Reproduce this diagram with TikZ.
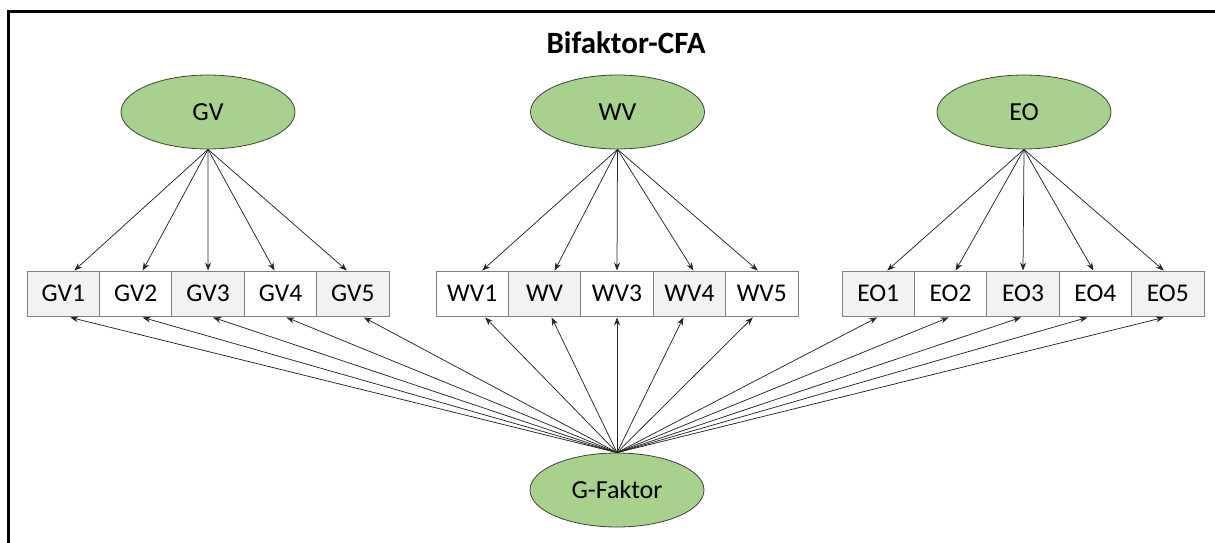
\documentclass[tikz,border=0pt]{standalone}
\usepackage{fontspec}
\setmainfont{Carlito}
\usetikzlibrary{shapes.geometric,arrows.meta}
\definecolor{latgreen}{HTML}{A9D18E}
\definecolor{boxgray}{HTML}{F2F2F2}
\begin{document}
\begin{tikzpicture}[x=1pt,y=1pt,
  latent/.style={ellipse,draw=black!75,line width=0.8pt,fill=latgreen,minimum width=174pt,minimum height=74pt,inner sep=0pt,font=\fontsize{26}{30}\selectfont},
  ind/.style={rectangle,draw=black!50,line width=0.9pt,minimum width=72.4pt,minimum height=45pt,inner sep=0pt,font=\fontsize{25.5}{30}\selectfont},
  gbox/.style={ind,fill=boxgray},
  wbox/.style={ind,fill=white},
  load/.style={-{Stealth[length=8pt,width=6pt]},line width=0.75pt,black!85}]
\useasboundingbox (0,0) rectangle (1215,-543);
\draw[line width=3pt] (8,-543) -- (8,-12) -- (1215,-12);
\node (title) at (626,-43) {\fontsize{31}{36}\selectfont\bfseries Bifaktor-CFA};
\node[latent] (GV) at (208,-112) {GV};
\node[latent] (WV) at (617.5,-112) {WV};
\node[latent] (EO) at (1024,-112) {EO};
\node[latent] (G) at (617,-490) {G-Faktor};
% GV row
\node[gbox] (GV1) at (63.3,-293.5) {GV1};
\node[wbox] (GV2) at (135.7,-293.5) {GV2};
\node[gbox] (GV3) at (208.1,-293.5) {GV3};
\node[wbox] (GV4) at (280.5,-293.5) {GV4};
\node[gbox] (GV5) at (352.9,-293.5) {GV5};
% WV row
\node[wbox] (WV1) at (472.2,-293.5) {WV1};
\node[gbox] (WV2) at (544.6,-293.5) {WV};
\node[wbox] (WV3) at (617,-293.5) {WV3};
\node[gbox] (WV4) at (689.4,-293.5) {WV4};
\node[wbox] (WV5) at (761.8,-293.5) {WV5};
% EO row
\node[gbox] (EO1) at (878.2,-293.5) {EO1};
\node[wbox] (EO2) at (950.6,-293.5) {EO2};
\node[gbox] (EO3) at (1023,-293.5) {EO3};
\node[wbox] (EO4) at (1095.4,-293.5) {EO4};
\node[gbox] (EO5) at (1167.8,-293.5) {EO5};
% specific and general loadings
\foreach \f/\b/\t/\u in {GV/GV1/11/7, GV/GV2/7/7, GV/GV3/0/5, GV/GV4/-6/6, GV/GV5/-6/11,
                        WV/WV1/10/13, WV/WV2/10/7, WV/WV3/0/0, WV/WV4/4/-6, WV/WV5/-4/-9,
                        EO/EO1/9/-1, EO/EO2/5/-2, EO/EO3/0/-2, EO/EO4/-2/-8, EO/EO5/-4/-4}{
  \draw[load] (\f.south) -- ([xshift=\t pt]\b.north);
  \draw[load] (G.north) -- ([xshift=\u pt,yshift=-1pt]\b.south);
}
\end{tikzpicture}
\end{document}
